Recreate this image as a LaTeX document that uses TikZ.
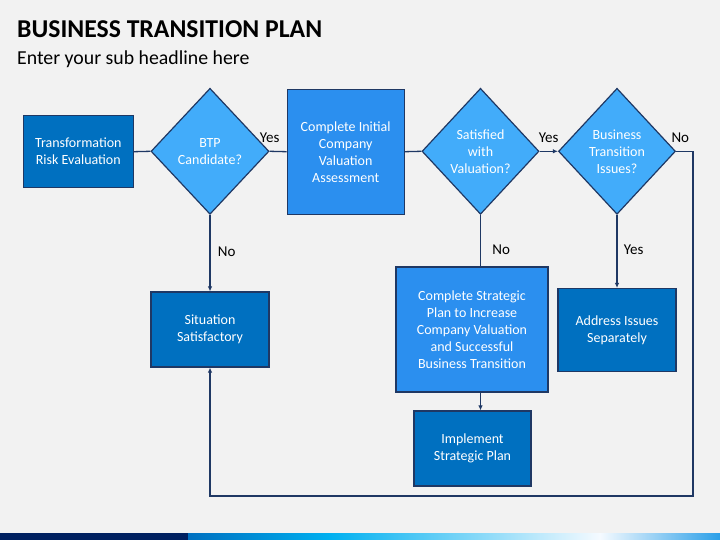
\documentclass[tikz,border=0pt]{standalone}
\usepackage{fontspec}
\setmainfont{Carlito}
\usetikzlibrary{shapes.geometric,arrows.meta}
\definecolor{bggray}{HTML}{F2F2F2}
\definecolor{darkblue}{HTML}{0070C0}
\definecolor{midblue}{HTML}{2B8FEF}
\definecolor{skyblue}{HTML}{42ACFA}
\definecolor{navyline}{HTML}{1F3864}
\definecolor{navybar}{HTML}{002060}
\definecolor{cyanbar}{HTML}{00B0F0}
\definecolor{palebar}{HTML}{F5FAFF}
\definecolor{endbar}{HTML}{2A9FE8}
\begin{document}
\begin{tikzpicture}[x=1pt, y=-1pt,
    box/.style={rectangle, draw=navyline, line width=1.2pt, fill=darkblue, text=white,
      align=center, inner sep=2pt, font=\fontsize{14}{17}\selectfont},
    litebox/.style={box, fill=midblue},
    choice/.style={diamond, draw=navyline, line width=1.2pt, fill=skyblue, text=white,
      align=center, inner sep=0pt, minimum width=118pt, minimum height=126pt,
      font=\fontsize{14}{17}\selectfont},
    conn/.style={draw=navyline, line width=1.3pt},
    arr/.style={conn, -{Latex[length=5pt,width=4.5pt]}},
    tag/.style={text=black, font=\fontsize{15}{17}\selectfont}]
    \fill[bggray] (0,0) rectangle (720,540);
    % bottom bar
    \fill[navybar] (0,533) rectangle (188,540);
    \shade[left color=darkblue, right color=cyanbar] (188,533) rectangle (330,540);
    \shade[left color=cyanbar, right color=palebar] (330,533) rectangle (600,540);
    \shade[left color=palebar, right color=endbar] (600,533) rectangle (720,540);
    % headings
    \node[anchor=base west, inner sep=0pt, font=\bfseries\fontsize{25.7}{30}\selectfont] (title) at (17,37.5) {BUSINESS TRANSITION PLAN};
    \node[anchor=base west, inner sep=0pt, font=\fontsize{19.8}{24}\selectfont] (subtitle) at (17,65) {Enter your sub headline here};
    % steps
    \node[box, minimum width=110pt, minimum height=72pt] (tre) at (78.3,151.7) {Transformation\\Risk Evaluation};
    \node[choice] (btp) at (210,151.3) {BTP\\Candidate?};
    \node[litebox, minimum width=117pt, minimum height=125pt] (cic) at (345.7,151.7) {Complete Initial\\Company\\Valuation\\Assessment};
    \node[choice, minimum width=117pt] (sat) at (480.5,151.3) {Satisfied\\with\\Valuation?};
    \node[choice, minimum width=117pt] (bti) at (617,151.3) {Business\\Transition\\Issues?};
    \node[box, minimum width=118pt, minimum height=75pt] (sit) at (210,329.5) {Situation\\Satisfactory};
    \node[litebox, minimum width=152pt, minimum height=125pt] (csp) at (472,329.5) {Complete Strategic\\Plan to Increase\\Company Valuation\\and Successful\\Business Transition};
    \node[box, minimum width=117pt, minimum height=75pt] (imp) at (472.5,448.5) {Implement\\Strategic Plan};
    \node[box, minimum width=118pt, minimum height=83pt] (adr) at (617,330) {Address Issues\\Separately};
    \coordinate (loopr) at (693,496);
    % connectors
    \draw[conn] (tre.east) -- (btp.west);
    \draw[conn] (btp.east) -- (cic.west) node[at start, above=5pt, tag] {Yes};
    \draw[conn] (cic.east) -- (sat.west);
    \draw[arr] (sat.east) -- (bti.west) node[pos=.5, above=5pt, tag] {Yes};
    \draw[arr] (btp.south) -- (sit.north) node[pos=.48, right=4pt, tag] {No};
    \draw[conn] (sat.south) -- (sat.south |- csp.north) node[pos=.68, right=8pt, tag] {No};
    \draw[arr] (sat.south |- csp.south) -- (sat.south |- imp.north);
    \draw[arr] (bti.south) -- (adr.north) node[pos=.48, right=3pt, tag] {Yes};
    \draw[arr] (bti.east) -- (bti.east -| loopr) node[pos=.25, above=5pt, tag] {No} -- (loopr) -| (sit.south);
\end{tikzpicture}
\end{document}
